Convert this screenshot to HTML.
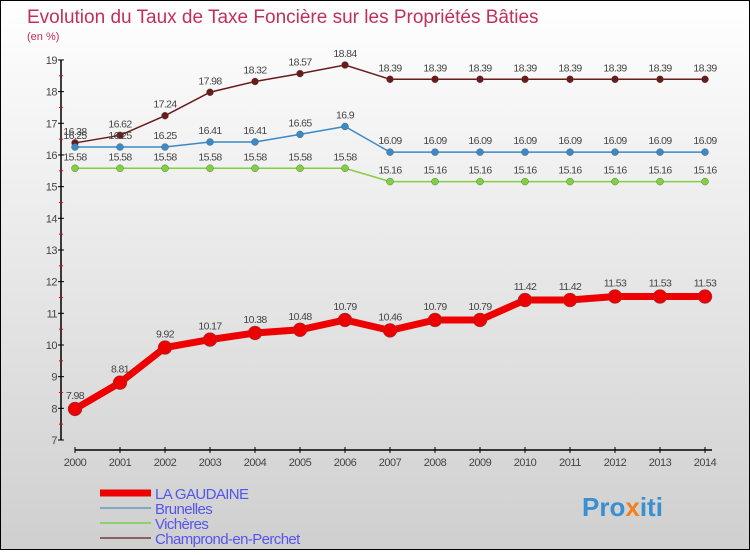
<!DOCTYPE html>
<html><head><meta charset="utf-8"><style>
body{margin:0;width:750px;height:550px;overflow:hidden;font-family:"Liberation Sans",sans-serif}
svg text{font-family:"Liberation Sans",sans-serif}
</style></head><body>
<svg id="c" width="750" height="550" xmlns="http://www.w3.org/2000/svg">
<defs><linearGradient id="bg" x1="0" y1="0" x2="0" y2="1"><stop offset="0" stop-color="#ffffff"/><stop offset="1" stop-color="#cfcfcf"/></linearGradient></defs>
<rect x="0.5" y="0.5" width="749" height="549" fill="url(#bg)" stroke="#000"/>
<text x="27" y="23" font-size="19" fill="#c0305a">Evolution du Taux de Taxe Foncière sur les Propriétés Bâties</text>
<text x="27" y="40" font-size="11" fill="#c0305a">(en %)</text>
<g id="axes"></g><g id="series"></g><g id="legend"></g>
<text x="582" y="516" font-size="26" font-weight="bold" fill="#3a8fd0">Pro<tspan fill="#f08020">x</tspan>iti</text>
</svg>
<script>
const years=[2000,2001,2002,2003,2004,2005,2006,2007,2008,2009,2010,2011,2012,2013,2014];
const gaudaine=[7.98,8.81,9.92,10.17,10.38,10.48,10.79,10.46,10.79,10.79,11.42,11.42,11.53,11.53,11.53];
const brunelles=[16.25,16.25,16.25,16.41,16.41,16.65,16.9,16.09,16.09,16.09,16.09,16.09,16.09,16.09,16.09];
const vicheres=[15.58,15.58,15.58,15.58,15.58,15.58,15.58,15.16,15.16,15.16,15.16,15.16,15.16,15.16,15.16];
const champrond=[16.38,16.62,17.24,17.98,18.32,18.57,18.84,18.39,18.39,18.39,18.39,18.39,18.39,18.39,18.39];
const yTicks=[7,8,9,10,11,12,13,14,15,16,17,18,19];
const NS='http://www.w3.org/2000/svg';
const X=i=>75+i*45, Y=v=>440-(v-7)*31.67;
function mk(t,a,p){const e=document.createElementNS(NS,t);for(const k in a)e.setAttribute(k,a[k]);(p||document.getElementById('series')).appendChild(e);return e;}
const ax=document.getElementById('axes');
let e=mk('line',{x1:61,y1:Y(19),x2:61,y2:Y(7),stroke:'#000','stroke-width':1.5},ax);

e=mk('line',{x1:75,y1:450,x2:712,y2:450,stroke:'#000','stroke-width':1.5},ax);

yTicks.forEach(v=>{mk('line',{x1:58,y1:Y(v),x2:64,y2:Y(v),stroke:'#000'},ax);
 if(v<19)mk('line',{x1:59,y1:Y(v+0.5),x2:63,y2:Y(v+0.5),stroke:'#e00'},ax);
 const t=mk('text',{x:57,y:Y(v)+4,'font-size':11,fill:'#444','text-anchor':'end','letter-spacing':'-0.5'},ax);t.textContent=v;
 });
years.forEach((y,i)=>{mk('line',{x1:X(i),y1:447,x2:X(i),y2:453,stroke:'#000'},ax);
 const t=mk('text',{x:X(i),y:466,'font-size':11,fill:'#444','text-anchor':'middle','letter-spacing':'-0.5'},ax);t.textContent=y;
 });
const series=[['champrond',champrond,'#6b1a1a',1.5,3.5],['vicheres',vicheres,'#80d040',1.5,3.5],['brunelles',brunelles,'#3a8ac8',1.5,3.5],['gaudaine',gaudaine,'#ee0000',7,7]];
series.forEach(([n,d,c,w,r])=>{
 const g=mk('g',{});
 mk('polyline',{points:d.map((v,i)=>X(i)+','+Y(v)).join(' '),fill:'none',stroke:c,'stroke-width':w},g);
 d.forEach((v,i)=>{const p=mk('circle',{cx:X(i),cy:Y(v),r:r,fill:c,stroke:'#555','stroke-width':0.4},g);
  
  const t=mk('text',{x:X(i),y:Y(v)-(n=='gaudaine'?10:8),'font-size':10.5,fill:'#444','text-anchor':'middle','letter-spacing':'-0.6'},g);t.textContent=v;
  });
});
const lg=document.getElementById('legend');
[['LA GAUDAINE','#ee0000',7],['Brunelles','#80a8c8',2],['Vichères','#90d070',2],['Champrond-en-Perchet','#8a6060',2]].forEach(([n,c,w],i)=>{
 const y=493+i*15;
 const g=mk('g',{},lg);
 mk('line',{x1:100,y1:y,x2:151,y2:y,stroke:c,'stroke-width':w},g);
 const t=mk('text',{x:155,y:y+6,'font-size':15,fill:'#5555ee','letter-spacing':'-0.6'},g);t.textContent=n;
});
</script>
</body></html>
